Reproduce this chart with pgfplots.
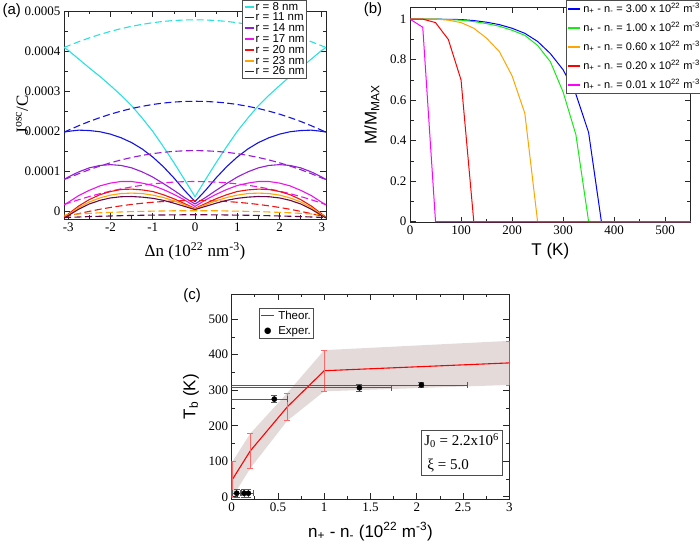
\documentclass[border=0pt]{standalone}
\usepackage{fontspec}
\setmainfont{Liberation Sans}
\newfontfamily\serif{Liberation Serif}
\newfontfamily\symfont{DejaVu Sans}
\usepackage{pgfplots}
\usepackage{pgfplotstable}
\pgfplotsset{compat=1.18}

\definecolor{cy8}{RGB}{40,225,225}
\definecolor{bl11}{RGB}{20,20,225}
\definecolor{pu14}{RGB}{150,30,210}
\definecolor{ma17}{RGB}{235,20,235}
\definecolor{re20}{RGB}{240,20,20}
\definecolor{or23}{RGB}{255,165,0}
\definecolor{mr26}{RGB}{103,7,72}
\definecolor{gB}{RGB}{0,0,255}
\definecolor{gG}{RGB}{20,235,20}
\definecolor{gO}{RGB}{255,165,0}
\definecolor{gR}{RGB}{255,0,0}
\definecolor{gM}{RGB}{255,0,255}
\definecolor{band}{RGB}{228,218,218}

% legend samples set as coloured rules inside the entry text
\newcommand{\keyA}[1]{\textcolor{#1}{\rule[2.5pt]{9pt}{1.7pt}}\hspace{2pt}}
\newcommand{\keyB}[1]{\textcolor{#1}{\rule[2.7pt]{12pt}{1.7pt}}\hspace{3pt}}
\newcommand{\npm}{n\textsubscript{+} - n\textsubscript{-}}

% panel (a): J^osc/C against Delta n, solid and dashed branch per radius
\pgfplotstableread{
x     cs      cd       bs      bd       ps      pd       ms      md       rs       rd        os       od        ws       wd
-3.1  4.09e-4 4.09e-4  1.98e-4 1.98e-4  0.80e-4 0.80e-4  0.17e-4 0.17e-4  -0.14e-4 -0.14e-4  -0.15e-4 -0.09e-4  -0.16e-4 -0.15e-4
-3    4.02e-4 4.132e-4 2.00e-4 2.026e-4 0.86e-4 0.836e-4 0.23e-4 0.21e-4  -0.06e-4 -0.112e-4 -0.08e-4 -0.08e-4  -0.10e-4 -0.145e-4
-2.75 3.80e-4 4.235e-4 2.03e-4 2.141e-4 0.99e-4 0.945e-4 0.40e-4 0.296e-4 0.14e-4  -0.05e-4  0.10e-4  -0.06e-4  0.06e-4  -0.135e-4
-2.5  3.58e-4 4.33e-4  2.02e-4 2.247e-4 1.09e-4 1.045e-4 0.53e-4 0.375e-4 0.30e-4  0.006e-4  0.24e-4  -0.045e-4 0.19e-4  -0.125e-4
-2.25 3.37e-4 4.415e-4 1.99e-4 2.342e-4 1.15e-4 1.135e-4 0.64e-4 0.446e-4 0.42e-4  0.057e-4  0.34e-4  -0.03e-4  0.28e-4  -0.117e-4
-2    3.14e-4 4.492e-4 1.93e-4 2.428e-4 1.17e-4 1.216e-4 0.71e-4 0.51e-4  0.50e-4  0.103e-4  0.41e-4  -0.02e-4  0.34e-4  -0.11e-4
-1.75 2.90e-4 4.56e-4  1.84e-4 2.503e-4 1.15e-4 1.287e-4 0.75e-4 0.566e-4 0.55e-4  0.143e-4  0.45e-4  -0.01e-4  0.37e-4  -0.103e-4
-1.5  2.64e-4 4.618e-4 1.72e-4 2.569e-4 1.09e-4 1.349e-4 0.75e-4 0.615e-4 0.56e-4  0.178e-4  0.46e-4  0.0       0.375e-4 -0.097e-4
-1.25 2.33e-4 4.667e-4 1.56e-4 2.624e-4 0.99e-4 1.401e-4 0.71e-4 0.656e-4 0.54e-4  0.208e-4  0.45e-4  0.005e-4  0.36e-4  -0.092e-4
-1    2.00e-4 4.708e-4 1.36e-4 2.67e-4  0.86e-4 1.444e-4 0.65e-4 0.69e-4  0.50e-4  0.232e-4  0.41e-4  0.01e-4   0.33e-4  -0.088e-4
-0.75 1.62e-4 4.74e-4  1.12e-4 2.705e-4 0.70e-4 1.477e-4 0.55e-4 0.716e-4 0.42e-4  0.251e-4  0.35e-4  0.015e-4  0.28e-4  -0.085e-4
-0.5  1.22e-4 4.762e-4 0.84e-4 2.73e-4  0.53e-4 1.501e-4 0.43e-4 0.735e-4 0.32e-4  0.264e-4  0.27e-4  0.02e-4   0.21e-4  -0.082e-4
-0.25 0.80e-4 4.776e-4 0.53e-4 2.745e-4 0.35e-4 1.515e-4 0.29e-4 0.746e-4 0.20e-4  0.272e-4  0.17e-4  0.02e-4   0.13e-4  -0.08e-4
0     0.37e-4 4.78e-4  0.25e-4 2.75e-4  0.19e-4 1.52e-4  0.13e-4 0.75e-4  0.08e-4  0.275e-4  0.07e-4  0.02e-4   0.05e-4  -0.08e-4
0.25  0.80e-4 4.776e-4 0.53e-4 2.745e-4 0.35e-4 1.515e-4 0.29e-4 0.746e-4 0.20e-4  0.272e-4  0.17e-4  0.02e-4   0.13e-4  -0.08e-4
0.5   1.22e-4 4.762e-4 0.84e-4 2.73e-4  0.53e-4 1.501e-4 0.43e-4 0.735e-4 0.32e-4  0.264e-4  0.27e-4  0.02e-4   0.21e-4  -0.082e-4
0.75  1.62e-4 4.74e-4  1.12e-4 2.705e-4 0.70e-4 1.477e-4 0.55e-4 0.716e-4 0.42e-4  0.251e-4  0.35e-4  0.015e-4  0.28e-4  -0.085e-4
1     2.00e-4 4.708e-4 1.36e-4 2.67e-4  0.86e-4 1.444e-4 0.65e-4 0.69e-4  0.50e-4  0.232e-4  0.41e-4  0.01e-4   0.33e-4  -0.088e-4
1.25  2.33e-4 4.667e-4 1.56e-4 2.624e-4 0.99e-4 1.401e-4 0.71e-4 0.656e-4 0.54e-4  0.208e-4  0.45e-4  0.005e-4  0.36e-4  -0.092e-4
1.5   2.64e-4 4.618e-4 1.72e-4 2.569e-4 1.09e-4 1.349e-4 0.75e-4 0.615e-4 0.56e-4  0.178e-4  0.46e-4  0.0       0.375e-4 -0.097e-4
1.75  2.90e-4 4.56e-4  1.84e-4 2.503e-4 1.15e-4 1.287e-4 0.75e-4 0.566e-4 0.55e-4  0.143e-4  0.45e-4  -0.01e-4  0.37e-4  -0.103e-4
2     3.14e-4 4.492e-4 1.93e-4 2.428e-4 1.17e-4 1.216e-4 0.71e-4 0.51e-4  0.50e-4  0.103e-4  0.41e-4  -0.02e-4  0.34e-4  -0.11e-4
2.25  3.37e-4 4.415e-4 1.99e-4 2.342e-4 1.15e-4 1.135e-4 0.64e-4 0.446e-4 0.42e-4  0.057e-4  0.34e-4  -0.03e-4  0.28e-4  -0.117e-4
2.5   3.58e-4 4.33e-4  2.02e-4 2.247e-4 1.09e-4 1.045e-4 0.53e-4 0.375e-4 0.30e-4  0.006e-4  0.24e-4  -0.045e-4 0.19e-4  -0.125e-4
2.75  3.80e-4 4.235e-4 2.03e-4 2.141e-4 0.99e-4 0.945e-4 0.40e-4 0.296e-4 0.14e-4  -0.05e-4  0.10e-4  -0.06e-4  0.06e-4  -0.135e-4
3     4.02e-4 4.132e-4 2.00e-4 2.026e-4 0.86e-4 0.836e-4 0.23e-4 0.21e-4  -0.06e-4 -0.112e-4 -0.08e-4 -0.08e-4  -0.10e-4 -0.145e-4
3.1   4.09e-4 4.09e-4  1.98e-4 1.98e-4  0.80e-4 0.80e-4  0.17e-4 0.17e-4  -0.14e-4 -0.14e-4  -0.15e-4 -0.09e-4  -0.16e-4 -0.15e-4
}\dataA

% panel (c): experimental points, asymmetric x errors
\pgfplotstableread{
x     y    xm    xp    ye
0.054 10   0.044 0.046 12
0.135 10   0.045 0.045 12
0.18  10   0.05  0.05  12
0.46  275  0.55  0.14  10
1.38  307  1.5   0.34  10
2.05  315  2.2   0.5   8
}\dataExp

\pgfplotsset{
  grace/.style={
    scale only axis, anchor=south west, clip=true,
    tick align=inside, major tick length=6pt, minor tick length=3.5pt,
    axis line style={black!85, line width=0.8pt},
    tick style={black!85, line width=0.7pt},
    tick label style={font=\serif\fontsize{13}{13}\selectfont},
    /pgf/number format/assume math mode=true,
    label style={font=\fontsize{17}{17}\selectfont},
    legend cell align=left,
    legend image code/.code={},
  },
  dsh/.style={line width=1.1pt, dash pattern=on 7pt off 3.5pt, forget plot},
  sld/.style={line width=1.1pt},
}

\begin{document}
\begin{tikzpicture}
\useasboundingbox (0,0) rectangle (700pt,545pt);

% ---------------- (a)
\begin{axis}[grace,
  at={(64pt,326pt)}, width=262pt, height=208pt,
  xmin=-3.1, xmax=3.1, ymin=-0.0000185, ymax=0.0005,
  xtick={-3,-2,-1,0,1,2,3}, xticklabels={-3,-2,-1,0,1,2,3},
  minor x tick num=1,
  ytick={0,0.0001,0.0002,0.0003,0.0004,0.0005},
  yticklabels={0,0.0001,0.0002,0.0003,0.0004,0.0005},
  scaled y ticks=false, minor y tick num=1,
  xlabel={\serif Δn (10\textsuperscript{22} nm\textsuperscript{-3})},
  ylabel={\serif J\textsuperscript{osc}/C},
  xlabel style={at={(axis description cs:0.5,-0.157)}, anchor=center},
  ylabel style={at={(axis description cs:-0.16,0.5)}, anchor=center},
  legend style={at={(0.6805,1.053)}, anchor=north west,
    font=\fontsize{11.5}{11.5}\selectfont, draw=black!70, line width=0.6pt,
    inner sep=1pt, row sep=0pt,
    nodes={inner sep=1pt, text height=7.8pt, text depth=1pt}},
]
\addplot[cy8, sld] table[x=x, y=cs] {\dataA};
\addlegendentry{\keyA{cy8}r = 8 nm}
\addplot[cy8, dsh] table[x=x, y=cd] {\dataA};
\addplot[bl11, sld] table[x=x, y=bs] {\dataA};
\addlegendentry{\keyA{bl11}r = 11 nm}
\addplot[bl11, dsh] table[x=x, y=bd] {\dataA};
\addplot[pu14, sld] table[x=x, y=ps] {\dataA};
\addlegendentry{\keyA{pu14}r = 14 nm}
\addplot[pu14, dsh] table[x=x, y=pd] {\dataA};
\addplot[ma17, sld] table[x=x, y=ms] {\dataA};
\addlegendentry{\keyA{ma17}r = 17 nm}
\addplot[ma17, dsh] table[x=x, y=md] {\dataA};
\addplot[re20, sld] table[x=x, y=rs] {\dataA};
\addlegendentry{\keyA{re20}r = 20 nm}
\addplot[re20, dsh] table[x=x, y=rd] {\dataA};
\addplot[or23, sld] table[x=x, y=os] {\dataA};
\addlegendentry{\keyA{or23}r = 23 nm}
\addplot[or23, dsh] table[x=x, y=od] {\dataA};
\addplot[mr26, sld] table[x=x, y=ws] {\dataA};
\addlegendentry{\keyA{mr26}r = 26 nm}
\addplot[mr26, dsh] table[x=x, y=wd] {\dataA};
\end{axis}

% ---------------- (b)
\begin{axis}[grace,
  at={(410pt,322.3pt)}, width=280.7pt, height=215.7pt,
  xmin=0, xmax=550, ymin=-0.005, ymax=1.06,
  xtick={0,100,200,300,400,500}, minor x tick num=1,
  ytick={0,0.2,0.4,0.6,0.8,1}, minor y tick num=1,
  xlabel={T (K)}, ylabel={M/M\textsubscript{MAX}},
  xlabel style={at={(axis description cs:0.5,-0.134)}, anchor=center},
  ylabel style={at={(axis description cs:-0.136,0.5)}, anchor=center},
  legend style={at={(0.5558,1.0325)}, anchor=north west,
    font=\fontsize{11}{11}\selectfont, draw=black!70, line width=0.6pt,
    inner sep=1pt, row sep=4pt,
    nodes={inner sep=1pt, text height=10pt, text depth=3pt}},
]
\addplot[gB, line width=1pt] coordinates {(0,1) (50,1) (75,0.999) (100,0.998) (125,0.993) (150,0.985) (175,0.973) (200,0.955) (225,0.93) (250,0.89) (275,0.83) (300,0.75) (325,0.63) (350,0.44) (375,0) (550,0)};
\addlegendentry{\keyB{gB}\npm{} = 3.00 x 10\textsuperscript{22} m\textsuperscript{-3}}
\addplot[gG, line width=1pt] coordinates {(0,1) (50,1) (75,0.998) (100,0.995) (125,0.988) (150,0.978) (175,0.965) (200,0.945) (225,0.92) (250,0.87) (275,0.79) (300,0.64) (325,0.43) (350,0) (550,0)};
\addlegendentry{\keyB{gG}\npm{} = 1.00 x 10\textsuperscript{22} m\textsuperscript{-3}}
\addplot[gO, line width=1pt] coordinates {(0,1) (25,1) (50,1) (75,0.995) (100,0.983) (125,0.955) (150,0.906) (175,0.84) (200,0.72) (225,0.535) (250,0) (550,0)};
\addlegendentry{\keyB{gO}\npm{} = 0.60 x 10\textsuperscript{22} m\textsuperscript{-3}}
\addplot[gR, line width=1pt] coordinates {(0,1) (25,1) (50,0.983) (75,0.90) (100,0.70) (125,0) (550,0)};
\addlegendentry{\keyB{gR}\npm{} = 0.20 x 10\textsuperscript{22} m\textsuperscript{-3}}
\addplot[gM, line width=1pt] coordinates {(0,1) (25,0.96) (50,0) (550,0)};
\addlegendentry{\keyB{gM}\npm{} = 0.01 x 10\textsuperscript{22} m\textsuperscript{-3}}
\end{axis}

% ---------------- (c)
\begin{axis}[grace,
  at={(231.7pt,45.7pt)}, width=277.6pt, height=205.3pt,
  xmin=0, xmax=3, ymin=-7, ymax=571,
  xtick={0,0.5,1,1.5,2,2.5,3}, minor x tick num=1,
  ytick={0,100,200,300,400,500}, minor y tick num=1,
  xlabel={\npm{} (10\textsuperscript{22} m\textsuperscript{-3})},
  ylabel={T\textsubscript{b} (K)},
  xlabel style={at={(axis description cs:0.5,-0.158)}, anchor=center},
  ylabel style={at={(axis description cs:-0.147,0.5)}, anchor=center},
  legend style={at={(0.0983,0.9318)}, anchor=north west,
    font=\fontsize{11.5}{11.5}\selectfont, draw=black!70, line width=0.6pt,
    inner sep=1pt, row sep=2pt,
    nodes={inner sep=1pt, text height=9pt, text depth=2pt}},
]
\addplot[fill=band, draw=none, forget plot] coordinates {(0,100) (0.01,100) (0.2,178) (0.6,292) (1,413) (3,439) (3,315) (1,297) (0.6,214) (0.2,80) (0.01,0) (0,0)} -- cycle;
\addplot[red, line width=1.1pt,
  error bars/.cd, y dir=both, y explicit,
  error bar style={color=red!60, line width=0.6pt},
  error mark options={rotate=90, color=red!60, mark size=3pt, line width=0.6pt}]
  coordinates {(0.01,50) +- (0,50) (0.2,129) +- (0,49) (0.6,253) +- (0,39) (1,355) +- (0,58) (3,377) +- (0,62)};
\addlegendentry{\textcolor{red}{\rule[2.8pt]{13pt}{1.7pt}}\hspace{4pt}Theor.}
\addplot[only marks, mark=*, mark size=2.6pt, black,
  error bars/.cd, x dir=both, x explicit, y dir=both, y explicit,
  error bar style={color=black!65, line width=0.6pt},
  error mark options={rotate=90, color=black!65, mark size=3pt, line width=0.6pt}]
  table[x=x, y=y, x error plus=xp, x error minus=xm, y error=ye] {\dataExp};
\addlegendentry{\makebox[13pt]{\raisebox{0.5pt}{\symfont\fontsize{8.5}{8.5}\selectfont ●}}\hspace{4pt}Exper.}
\node[draw=black!70, line width=0.6pt, fill=white, align=left, inner sep=3pt,
  font=\serif\fontsize{15}{24}\selectfont] at (axis cs:2.485,124)
  {J\textsubscript{0} = 2.2x10\textsuperscript{6}\\\hspace{3pt}ξ = 5.0};
\end{axis}

\node[font=\fontsize{15}{15}\selectfont] at (11.7pt,534.3pt) {(a)};
\node[font=\fontsize{15}{15}\selectfont] at (373pt,535pt) {(b)};
\node[font=\fontsize{15}{15}\selectfont] at (192pt,249pt) {(c)};
\end{tikzpicture}
\end{document}
